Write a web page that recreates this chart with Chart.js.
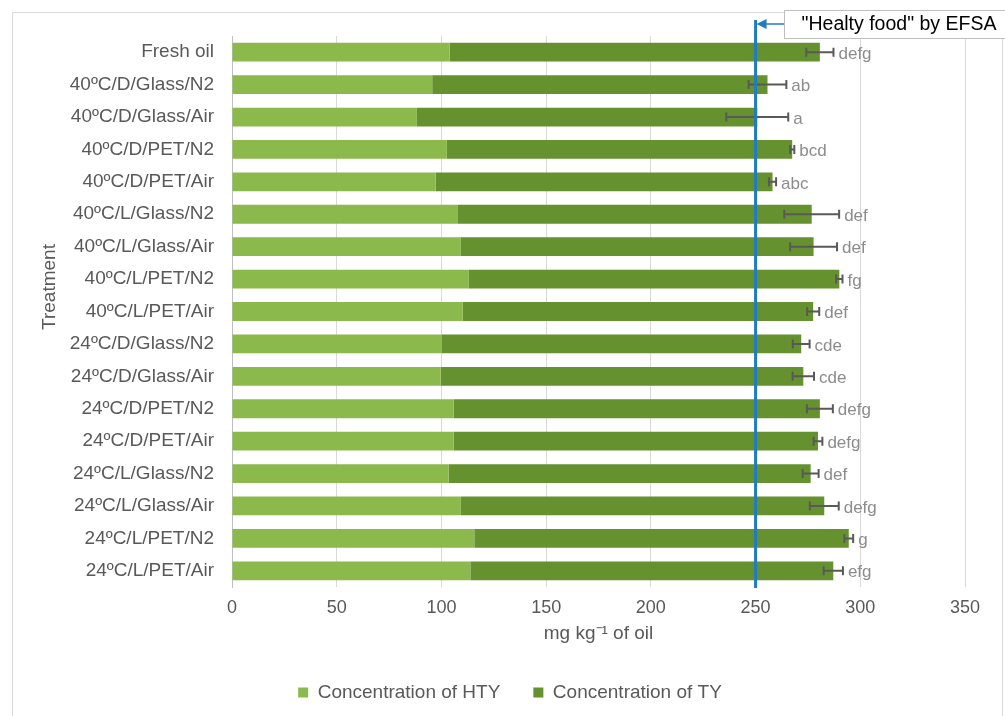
<!DOCTYPE html>
<html>
<head>
<meta charset="utf-8">
<script src="https://cdn.jsdelivr.net/npm/chart.js@4"></script>
<style>
  html, body { margin: 0; padding: 0; background: #fff; }
  #wrap { width: 1005px; height: 716px; }
</style>
</head>
<body>
<div id="wrap"><canvas id="chart" width="1005" height="716"></canvas></div>
<script>
// --- data ---
const treatments = [
    'Fresh oil', '40ºC/D/Glass/N2', '40ºC/D/Glass/Air', '40ºC/D/PET/N2', '40ºC/D/PET/Air',
    '40ºC/L/Glass/N2', '40ºC/L/Glass/Air', '40ºC/L/PET/N2', '40ºC/L/PET/Air',
    '24ºC/D/Glass/N2', '24ºC/D/Glass/Air', '24ºC/D/PET/N2', '24ºC/D/PET/Air',
    '24ºC/L/Glass/N2', '24ºC/L/Glass/Air', '24ºC/L/PET/N2', '24ºC/L/PET/Air'
];
const htyValues = [103.9, 95.6, 88.3, 102.6, 97.2, 107.9, 109.3, 113.1, 110.2, 100.0, 99.6, 105.9, 105.9, 103.4, 109.3, 115.7, 113.8];
const tyValues = [176.8, 160.1, 162.5, 164.9, 160.9, 168.9, 168.4, 176.9, 167.3, 171.8, 173.2, 174.8, 173.9, 172.9, 173.5, 178.8, 173.3];
const totalSd = [6.5, 9.0, 14.8, 1.0, 1.7, 13.1, 11.2, 1.5, 2.9, 4.0, 5.1, 6.2, 2.1, 3.8, 6.9, 2.1, 4.6];
const groupLetters = ['defg', 'ab', 'a', 'bcd', 'abc', 'def', 'def', 'fg', 'def', 'cde', 'cde', 'defg', 'defg', 'def', 'defg', 'g', 'efg'];
const xTicks = [0, 50, 100, 150, 200, 250, 300, 350];
const efsaLimit = 250;
const efsaLabel = '"Healty food" by EFSA';
const yTitle = 'Treatment';

const FONT = "'Liberation Sans', Arial, sans-serif";
const TEXT_GREY = '#595959';

// outer frame, y title, error bars, letters, EFSA line + callout
const extrasPlugin = {
    id: 'extras',
    beforeDraw(chart) {
        const ctx = chart.ctx;
        ctx.save();
        ctx.fillStyle = '#fff';
        ctx.fillRect(0, 0, chart.width, chart.height);
        ctx.strokeStyle = '#d9d9d9';
        ctx.lineWidth = 1;
        ctx.strokeRect(12.5, 12.5, 990, 720);

        // axis title (Excel puts it a bit above the middle)
        ctx.translate(50, 287);
        ctx.rotate(-Math.PI / 2);
        ctx.fillStyle = TEXT_GREY;
        ctx.font = '19px ' + FONT;
        ctx.textAlign = 'center';
        ctx.textBaseline = 'middle';
        ctx.fillText(yTitle, 0, 0);
        ctx.restore();
    },
    afterDatasetsDraw(chart) {
        const ctx = chart.ctx;
        const xs = chart.scales.x;
        const ys = chart.scales.y;
        ctx.save();
        // error bars on the stacked total
        ctx.strokeStyle = '#595959';
        ctx.lineWidth = 2;
        treatments.forEach((t, i) => {
            const total = htyValues[i] + tyValues[i];
            const y = ys.getPixelForValue(i);
            const x1 = xs.getPixelForValue(total - totalSd[i]);
            const x2 = xs.getPixelForValue(total + totalSd[i]);
            ctx.beginPath();
            ctx.moveTo(x1, y); ctx.lineTo(x2, y);
            ctx.moveTo(x1, y - 4.5); ctx.lineTo(x1, y + 4.5);
            ctx.moveTo(x2, y - 4.5); ctx.lineTo(x2, y + 4.5);
            ctx.stroke();
            ctx.fillStyle = '#8c8c8c';
            ctx.font = '17px ' + FONT;
            ctx.textAlign = 'left';
            ctx.textBaseline = 'middle';
            ctx.fillText(groupLetters[i], x2 + 5, y + 2);
        });

        // EFSA line
        const xl = xs.getPixelForValue(efsaLimit);
        ctx.strokeStyle = '#1f7cc2';
        ctx.lineWidth = 3;
        ctx.beginPath();
        ctx.moveTo(xl, 20);
        ctx.lineTo(xl, chart.chartArea.bottom + 1);
        ctx.stroke();

        // callout box
        const bx = 784, by = 10, bw = 222, bh = 28;
        ctx.fillStyle = '#fff';
        ctx.fillRect(bx, by, bw, bh);
        ctx.strokeStyle = '#bfbfbf';
        ctx.lineWidth = 1;
        ctx.strokeRect(bx + 0.5, by + 0.5, bw, bh);
        ctx.fillStyle = '#000';
        ctx.font = '19.5px ' + FONT;
        ctx.textAlign = 'center';
        ctx.textBaseline = 'middle';
        ctx.fillText(efsaLabel, bx + 115, by + bh / 2 + 1);

        // arrow from callout to the line
        const ay = 24;
        ctx.strokeStyle = '#1f7cc2';
        ctx.lineWidth = 1.5;
        ctx.beginPath();
        ctx.moveTo(bx, ay);
        ctx.lineTo(xl + 8, ay);
        ctx.stroke();
        ctx.fillStyle = '#1f7cc2';
        ctx.beginPath();
        ctx.moveTo(xl + 1, ay);
        ctx.lineTo(xl + 11, ay - 5);
        ctx.lineTo(xl + 11, ay + 5);
        ctx.closePath();
        ctx.fill();
        ctx.restore();
    }
};

const ctx = document.getElementById('chart').getContext('2d');
new Chart(ctx, {
    type: 'bar',
    data: {
        labels: treatments,
        datasets: [
            {
                label: 'Concentration of HTY',
                data: htyValues,
                backgroundColor: '#8cb94c',
                barPercentage: 0.58,
                categoryPercentage: 1.0
            },
            {
                label: 'Concentration of TY',
                data: tyValues,
                backgroundColor: '#65912f',
                barPercentage: 0.58,
                categoryPercentage: 1.0
            }
        ]
    },
    options: {
        indexAxis: 'y',
        responsive: false,
        animation: false,
        devicePixelRatio: 1,
        layout: { padding: { top: 36, left: 55, right: 40, bottom: 4 } },
        plugins: {
            legend: {
                position: 'bottom',
                labels: {
                    boxWidth: 10,
                    boxHeight: 10,
                    padding: 33,
                    color: TEXT_GREY,
                    font: { family: FONT, size: 19 }
                }
            },
            tooltip: { enabled: false }
        },
        scales: {
            x: {
                stacked: true,
                min: 0,
                max: 350,
                afterBuildTicks: (scale) => { scale.ticks = xTicks.map(v => ({ value: v })); },
                afterFit: (scale) => { scale.height = 63; },
                grid: { color: '#d9d9d9', drawTicks: false },
                border: { display: false },
                ticks: { color: TEXT_GREY, padding: 10, font: { family: FONT, size: 18 } },
                title: {
                    display: true,
                    text: 'mg kg⁻¹ of oil',
                    color: TEXT_GREY,
                    padding: { top: 0, bottom: 5 },
                    font: { family: FONT, size: 19 }
                }
            },
            y: {
                stacked: true,
                afterFit: (scale) => { scale.width = 177; },
                grid: { display: false, drawTicks: false },
                border: { display: true, color: '#bfbfbf' },
                ticks: { color: TEXT_GREY, padding: 18, font: { family: FONT, size: 19 } },
                title: { display: false }
            }
        }
    },
    plugins: [extrasPlugin]
});
</script>
</body>
</html>
